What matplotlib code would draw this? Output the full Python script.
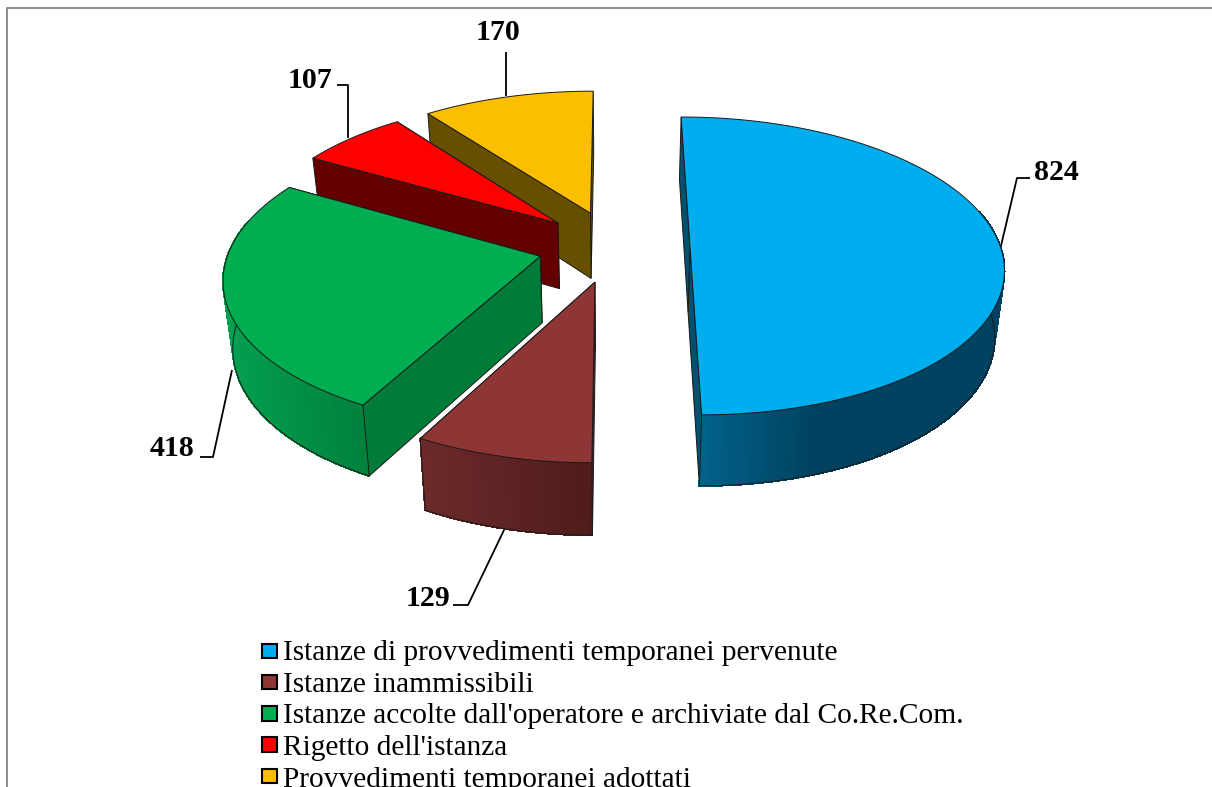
import numpy as np
import matplotlib
matplotlib.use("Agg")
import matplotlib.pyplot as plt
from matplotlib.collections import PolyCollection
from matplotlib.colors import to_rgb
from matplotlib.patches import Polygon, Rectangle

labels = ["Istanze di provvedimenti temporanei pervenute",
          "Istanze inammissibili",
          "Istanze accolte dall'operatore e archiviate dal Co.Re.Com.",
          "Rigetto dell'istanza",
          "Provvedimenti temporanei adottati"]
values = [824, 129, 418, 107, 170]
colors = ["#00aeef", "#8e3535", "#00ad50", "#ff0000", "#fbbe00"]
wall_colors = ["#00506f", "#5a2020", "#007b38", "#630000", "#665000"]
# outer rim gradient, left to right
rim_left = ["#01638c", "#6c2a2a", "#03a04f", "#630000", "#665000"]
rim_right = ["#00425f", "#4f1b1b", "#00803c", "#630000", "#665000"]
label_pos = [(1056, 172), (428, 599), (172, 449), (310, 80), (498, 33)]
leaders = [[(1000, 250), (1017, 178), (1030, 178)],
           [(505, 528), (468, 605), (453, 605)],
           [(232, 370), (213, 457), (200, 457)],
           [(348, 138), (348, 85), (337, 85)],
           [(506, 96), (506, 52)]]

# perspective of the tilted pie
XV, YH = 614, -860
F, H, DC = 2345, 8363, 7.56
EXPLODE = 0.245
THICK = 182
BOTTOM_X = 0.975


def project(x, y):
    d = DC + y
    return XV + F * x / d, YH + H / d


def drop(sx, sy, y):
    # same point on the lower face of the slice
    return XV + (sx - XV) * BOTTOM_X, sy + THICK / np.sqrt(DC + y)


fig = plt.figure(figsize=(12.12, 7.87), dpi=100)
ax = fig.add_axes([0, 0, 1, 1])
ax.set_xlim(0, 1212)
ax.set_ylim(787, 0)
ax.axis("off")

ax.plot([7, 7, 1212], [787, 8, 8], color="#8c8c8c", lw=1.4, zorder=1)

for pts in leaders:
    ax.plot(*zip(*pts), color="black", lw=1.3, zorder=2, solid_capstyle="butt")

edges = np.cumsum([0] + values) / sum(values) * 2 * np.pi
# far slices first
order = sorted(range(len(values)), key=lambda i: -np.cos((edges[i] + edges[i + 1]) / 2))
line = "#1a1a1a"

for i in order:
    t0, t1 = edges[i], edges[i + 1]
    mid = (t0 + t1) / 2
    cx, cy = EXPLODE * np.sin(mid), EXPLODE * np.cos(mid)
    t = np.linspace(t0, t1, 160)
    wx, wy = cx + np.sin(t), cy + np.cos(t)
    sx, sy = project(wx, wy)
    bx, by = drop(sx, sy, wy)
    ax_, ay_ = project(cx, cy)
    abx, aby = drop(ax_, ay_, cy)
    z = 3 + order.index(i)

    # flat walls along both cuts, the hidden one first
    for j in (-1, 0):
        wall = [(ax_, ay_), (sx[j], sy[j]), (bx[j], by[j]), (abx, aby)]
        ax.add_patch(Polygon(wall, fc=wall_colors[i], ec=line, lw=0.7, zorder=z))

    # rim on the side facing the viewer only, shaded across its width
    vis = np.cos(t) < 0.25
    if vis.sum() > 1:
        rx, ry, qx, qy = sx[vis], sy[vis], bx[vis], by[vis]
        quads, shades = [], []
        for k in range(len(rx) - 1):
            quads.append([(rx[k], ry[k]), (rx[k + 1], ry[k + 1]), (qx[k + 1], qy[k + 1]), (qx[k], qy[k])])
            f = (rx[k] - rx.min()) / (rx.max() - rx.min())
            if i == 0:
                f = min(f * 2.6, 1)
            shades.append(np.array(to_rgb(rim_left[i])) * (1 - f) + np.array(to_rgb(rim_right[i])) * f)
        ax.add_collection(PolyCollection(quads, facecolors=shades, edgecolors=shades, lw=0.8,
                                         antialiaseds=False, zorder=z))
        ax.plot(qx, qy, color=line, lw=0.7, zorder=z)
        # corners where a cut meets the rim
        for j in (0, -1):
            if vis[j]:
                ax.plot([sx[j], bx[j]], [sy[j], by[j]], color=line, lw=0.7, zorder=z)

    top = [(ax_, ay_)] + list(zip(sx, sy))
    ax.add_patch(Polygon(top, fc=colors[i], ec=line, lw=0.7, zorder=z))

for i, (x, y) in enumerate(label_pos):
    ax.text(x, y, str(values[i]), family="Liberation Serif", weight="bold", fontsize=21.5,
            ha="center", va="center", color="black", zorder=20)

for i, lab in enumerate(labels):
    ax.add_patch(Rectangle((262, 643.5 + i * 31.3), 14.5, 14.5, fc=colors[i], ec="black", lw=1.5, zorder=20))
    ax.text(283, 653 + i * 31.7, lab, family="Liberation Serif", fontsize=21.15, ha="left", va="center",
            color="black", zorder=20)

fig.savefig("out.png", dpi=100)
